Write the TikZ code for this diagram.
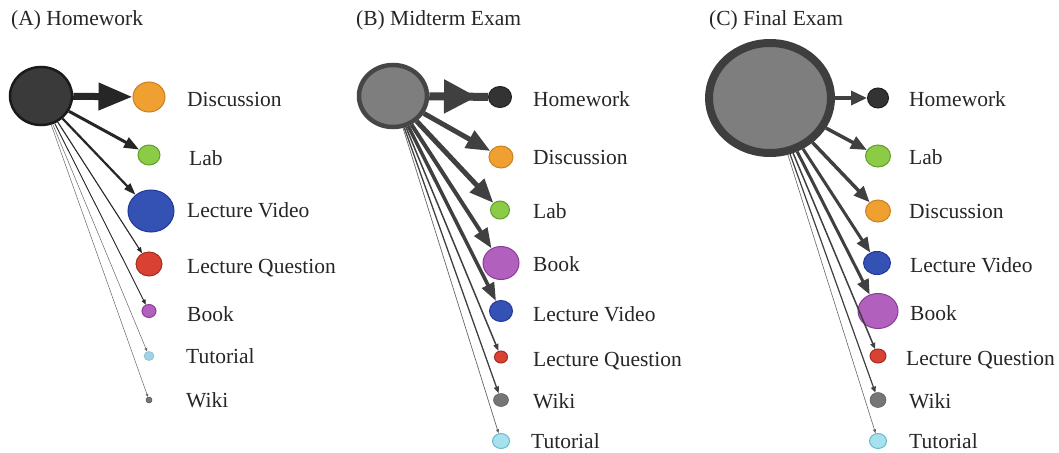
\documentclass[tikz,border=0pt]{standalone}
\usepackage{fontspec}
\setmainfont{Liberation Serif}
\usetikzlibrary{arrows.meta,shapes.geometric,decorations.markings}
\definecolor{cOrange}{HTML}{F0A030}\definecolor{bOrange}{HTML}{C98020}
\definecolor{cGreen}{HTML}{8CCB45}\definecolor{bGreen}{HTML}{5E9E2A}
\definecolor{cBlue}{HTML}{3352B4}\definecolor{bBlue}{HTML}{22389A}
\definecolor{cRed}{HTML}{D94232}\definecolor{bRed}{HTML}{A52A1E}
\definecolor{cPurple}{HTML}{B260BE}\definecolor{bPurple}{HTML}{8A3C98}
\definecolor{cLtBlue}{HTML}{9ED3E6}\definecolor{bLtBlue}{HTML}{7FB8CC}
\definecolor{cCyan}{HTML}{A6E1EE}\definecolor{bCyan}{HTML}{6BB8CC}
\definecolor{cWiki}{HTML}{767676}\definecolor{bWiki}{HTML}{555555}
\definecolor{cDark}{HTML}{333333}\definecolor{bDark}{HTML}{1F1F1F}
\definecolor{cSrcA}{HTML}{3A3A3A}\definecolor{bSrcA}{HTML}{1A1A1A}
\definecolor{cSrc}{HTML}{7E7E7E}\definecolor{bSrcB}{HTML}{464646}\definecolor{bSrcC}{HTML}{3E3E3E}
\definecolor{edA}{HTML}{262626}\definecolor{edB}{HTML}{404040}
\tikzset{
  nd/.style args={#1/#2}{ellipse, inner sep=0pt, line width=1pt, minimum width=#1pt, minimum height=#2pt},
  orange/.style={fill=cOrange, draw=bOrange},
  green/.style={fill=cGreen, draw=bGreen},
  blue/.style={fill=cBlue, draw=bBlue},
  red/.style={fill=cRed, draw=bRed},
  purple/.style={fill=cPurple, draw=bPurple},
  ltblue/.style={fill=cLtBlue, draw=bLtBlue, line width=0.5pt},
  cyan/.style={fill=cCyan, draw=bCyan},
  wiki/.style={fill=cWiki, draw=bWiki, line width=0.5pt},
  dark/.style={fill=cDark, draw=bDark},
  lbl/.style={anchor=base west, inner sep=0pt, font=\fontsize{21.5}{24}\selectfont, text=black!85},
  ttl/.style={anchor=base west, inner sep=0pt, font=\fontsize{21.5}{24}\selectfont, text=black!85},
  ed/.style args={#1/#2/#3}{line width=#1pt, -{Triangle[length=#2pt,width=#3pt]}},
}
\begin{document}
\begin{tikzpicture}[x=1pt,y=-1pt]
\useasboundingbox[fill=white] (0,0) rectangle (1059,452);
% ---------------- Panel A ----------------
\node[ttl] (tA) at (11,26) {(A) Homework};
\node[nd=62/58, fill=cSrcA, draw=bSrcA, line width=2.5pt] (aS) at (41,96) {};
\node[nd=32/30, orange] (aDis) at (149,97) {};
\node[nd=22/20, green] (aLab) at (149,155) {};
\node[nd=46/42, blue] (aLV) at (151,211) {};
\node[nd=26/24, red] (aLQ) at (149,264) {};
\node[nd=14/13, purple] (aBook) at (149,311) {};
\node[nd=10/9, ltblue] (aTut) at (149,356) {};
\node[nd=6/6, wiki] (aWiki) at (149,400) {};
\node[lbl] (aDisL) at (187,106) {Discussion};
\node[lbl] (aLabL) at (189,165) {Lab};
\node[lbl] (aLVL) at (187,217) {Lecture Video};
\node[lbl] (aLQL) at (187,273) {Lecture Question};
\node[lbl] (aBookL) at (187,321) {Book};
\node[lbl] (aTutL) at (186,363) {Tutorial};
\node[lbl] (aWikiL) at (186,407) {Wiki};
\begin{scope}[draw=edA, color=edA]
\draw[ed=7/34/26] (aS) -- (aDis);
\draw[ed=3/15/11] (aS) -- (aLab);
\draw[ed=2.2/12/8] (aS) -- (aLV);
\draw[ed=1.1/6/4.5] (aS) -- (aLQ);
\draw[ed=0.9/5/4] (aS) -- (aBook);
\draw[ed=0.5/3.5/3, draw=black!60] (aS) -- (aTut);
\draw[ed=0.5/3/2.5, draw=black!60] (aS) -- (aWiki);
\end{scope}
% ---------------- Panel B ----------------
\node[ttl] (tB) at (356,26) {(B) Midterm Exam};
\node[nd=68/62, fill=cSrc, draw=bSrcB, line width=4.5pt] (bS) at (393,96) {};
\node[nd=23/21, dark] (bHw) at (500,97) {};
\node[nd=24/22, orange] (bDis) at (501,157) {};
\node[nd=19/18, green] (bLab) at (500,210) {};
\node[nd=36/33, purple] (bBook) at (501,263) {};
\node[nd=23/21, blue] (bLV) at (501,311) {};
\node[nd=13/12, red] (bLQ) at (501,357) {};
\node[nd=15/13, wiki] (bWiki) at (501,400) {};
\node[nd=17/15, cyan] (bTut) at (501,441) {};
\node[lbl] (bHwL) at (533,106) {Homework};
\node[lbl] (bDisL) at (533,164) {Discussion};
\node[lbl] (bLabL) at (533,218) {Lab};
\node[lbl] (bBookL) at (533,271) {Book};
\node[lbl] (bLVL) at (533,321) {Lecture Video};
\node[lbl] (bLQL) at (533,366) {Lecture Question};
\node[lbl] (bWikiL) at (533,408) {Wiki};
\node[lbl] (bTutL) at (531,448) {Tutorial};
\begin{scope}[draw=edB, color=edB]
\draw[line width=8pt, decoration={markings, mark=at position -11pt with {\arrow{Triangle[length=33pt,width=32pt]}}}, postaction={decorate}] (bS) -- (bHw);
\draw[ed=5/24/19] (bS) -- (bDis);
\draw[ed=5/24/19] (bS) -- (bLab);
\draw[ed=4/20/15] (bS) -- (bBook);
\draw[ed=3.5/18/13] (bS) -- (bLV);
\draw[ed=1.5/7/5] (bS) -- (bLQ);
\draw[ed=1.3/7/5] (bS) -- (bWiki);
\draw[ed=0.7/4/3, draw=black!60] (bS) -- (bTut);
\end{scope}
% ---------------- Panel C ----------------
\node[ttl] (tC) at (709,26) {(C) Final Exam};
\node[nd=122/110, fill=cSrc, draw=bSrcC, line width=8pt] (cS) at (770,98) {};
\node[nd=21/20, dark] (cHw) at (878,98) {};
\node[nd=25/22, green] (cLab) at (878,156) {};
\node[nd=25/22, orange] (cDis) at (878,211) {};
\node[nd=27/23, blue] (cLV) at (877,263) {};
\node[nd=40/35, purple] (cBook) at (878,311) {};
\node[nd=16/14, red] (cLQ) at (878,356) {};
\node[nd=16/15, wiki] (cWiki) at (878,400) {};
\node[nd=17/15, cyan] (cTut) at (878,441) {};
\node[lbl] (cHwL) at (909,106) {Homework};
\node[lbl] (cLabL) at (909,164) {Lab};
\node[lbl] (cDisL) at (909,218) {Discussion};
\node[lbl] (cLVL) at (910,272) {Lecture Video};
\node[lbl] (cBookL) at (910,320) {Book};
\node[lbl] (cLQL) at (906,365) {Lecture Question};
\node[lbl] (cWikiL) at (909,408) {Wiki};
\node[lbl] (cTutL) at (909,448) {Tutorial};
\begin{scope}[draw=edB, color=edB]
\draw[ed=3.5/16/14] (cS) -- (cHw);
\draw[ed=3.5/16/13] (cS) -- (cLab);
\draw[ed=3.5/16/13] (cS) -- (cDis);
\draw[ed=3/15/12] (cS) -- (cLV);
\draw[ed=3/15/12] (cS) -- (cBook);
\draw[ed=1.5/6/5] (cS) -- (cLQ);
\draw[ed=1.2/6/5] (cS) -- (cWiki);
\draw[ed=0.6/4/3, draw=black!60] (cS) -- (cTut);
\end{scope}
\end{tikzpicture}
\end{document}
